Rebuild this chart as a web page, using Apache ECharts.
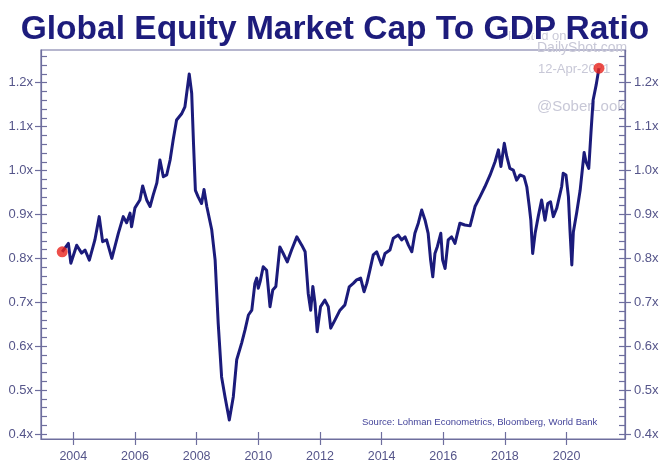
<!DOCTYPE html>
<html>
<head>
<meta charset="utf-8">
<script src="https://cdn.jsdelivr.net/npm/echarts@6/dist/echarts.min.js"></script>
<style>
html,body{margin:0;padding:0;background:#fff;}
#chart{width:670px;height:467px;}
</style>
</head>
<body>
<div id="chart"></div>
<script>
// ---- data (decimal years, ratio of market cap to GDP) ----
var dates = [
  2003.64, 2003.84, 2003.92, 2004.11, 2004.27, 2004.38, 2004.52, 2004.70, 2004.84, 2004.95,
  2005.08, 2005.25, 2005.46, 2005.62, 2005.73, 2005.84, 2005.89, 2006.00, 2006.16, 2006.25,
  2006.38, 2006.49, 2006.59, 2006.71, 2006.81, 2006.92, 2007.03, 2007.14, 2007.24, 2007.35,
  2007.52, 2007.62, 2007.76, 2007.84, 2007.90, 2007.96, 2008.05, 2008.16, 2008.24, 2008.33,
  2008.49, 2008.60, 2008.70, 2008.81, 2008.92, 2009.06, 2009.19, 2009.30, 2009.46, 2009.57,
  2009.68, 2009.79, 2009.89, 2009.95, 2010.00, 2010.06, 2010.16, 2010.27, 2010.38, 2010.47,
  2010.57, 2010.70, 2010.81, 2010.94, 2011.08, 2011.25, 2011.41, 2011.52, 2011.62, 2011.70,
  2011.77, 2011.84, 2011.91, 2012.02, 2012.16, 2012.27, 2012.35, 2012.49, 2012.65, 2012.81,
  2012.95, 2013.08, 2013.19, 2013.32, 2013.43, 2013.52, 2013.62, 2013.73, 2013.84, 2014.00,
  2014.11, 2014.27, 2014.38, 2014.54, 2014.65, 2014.76, 2014.87, 2014.98, 2015.08, 2015.19,
  2015.30, 2015.41, 2015.51, 2015.59, 2015.66, 2015.73, 2015.81, 2015.92, 2015.98, 2016.06,
  2016.16, 2016.27, 2016.38, 2016.54, 2016.70, 2016.87, 2017.03, 2017.19, 2017.35, 2017.52,
  2017.68, 2017.79, 2017.87, 2017.98, 2018.06, 2018.16, 2018.27, 2018.38, 2018.49, 2018.62,
  2018.71, 2018.79, 2018.84, 2018.90, 2018.98, 2019.08, 2019.19, 2019.30, 2019.39, 2019.48,
  2019.57, 2019.68, 2019.84, 2019.89, 2019.98, 2020.06, 2020.11, 2020.17, 2020.22, 2020.33,
  2020.44, 2020.57, 2020.63, 2020.72, 2020.79, 2020.86, 2020.96, 2021.05
];
var ratio = [
  0.815, 0.834, 0.789, 0.830, 0.812, 0.819, 0.796, 0.842, 0.895, 0.838,
  0.842, 0.800, 0.857, 0.895, 0.881, 0.903, 0.872, 0.915, 0.933, 0.965,
  0.933, 0.918, 0.944, 0.972, 1.024, 0.986, 0.990, 1.024, 1.070, 1.115,
  1.130, 1.145, 1.220, 1.176, 1.060, 0.955, 0.940, 0.925, 0.957, 0.918,
  0.865, 0.796, 0.652, 0.530, 0.485, 0.432, 0.485, 0.569, 0.607, 0.637,
  0.671, 0.682, 0.743, 0.755, 0.732, 0.747, 0.781, 0.773, 0.690, 0.728,
  0.736, 0.826, 0.811, 0.792, 0.819, 0.849, 0.830, 0.815, 0.720, 0.682,
  0.736, 0.698, 0.633, 0.690, 0.705, 0.690, 0.641, 0.660, 0.682, 0.694,
  0.735, 0.743, 0.751, 0.755, 0.724, 0.743, 0.773, 0.808, 0.815, 0.785,
  0.811, 0.819, 0.846, 0.853, 0.842, 0.849, 0.830, 0.815, 0.857, 0.880,
  0.910, 0.887, 0.857, 0.796, 0.758, 0.811, 0.827, 0.857, 0.796, 0.777,
  0.842, 0.849, 0.834, 0.880, 0.876, 0.874, 0.918, 0.940, 0.963, 0.990,
  1.020, 1.047, 1.009, 1.062, 1.032, 1.005, 1.001, 0.978, 0.990, 0.986,
  0.963, 0.918, 0.887, 0.811, 0.857, 0.895, 0.933, 0.887, 0.925, 0.929,
  0.895, 0.914, 0.963, 0.994, 0.990, 0.940, 0.865, 0.785, 0.860, 0.905,
  0.955, 1.041, 1.020, 1.005, 1.085, 1.160, 1.195, 1.233
];
var xTickLabels = [2004, 2006, 2008, 2010, 2012, 2014, 2016, 2018, 2020];
var yTickLabels = [0.4, 0.5, 0.6, 0.7, 0.8, 0.9, 1.0, 1.1, 1.2];
var yMinorStep = 0.02;

// ---- build ----
var seriesData = dates.map(function (d, i) { return [d, ratio[i]]; });
var endPoints = [seriesData[0], seriesData[seriesData.length - 1]];
var yMinorTicks = [];
for (var v = 0.40; v <= 1.27; v += yMinorStep) { yMinorTicks.push(Math.round(v * 100) / 100); }

var X_MIN = 2002.952, X_MAX = 2021.895;
var Y_MIN = 0.3886, Y_MAX = 1.2745;
var AXIS_COLOR = '#6e6e9e';
var LABEL_COLOR = '#55558a';
var FONT = 'Liberation Sans, Arial, sans-serif';

function yFmt(v) { return v.toFixed(1) + 'x'; }

function yAxisDef(pos, showLabel, inside, ticks, len, margin) {
  return {
    type: 'value', position: pos, min: Y_MIN, max: Y_MAX,
    splitLine: { show: false },
    axisLine: { show: showLabel, lineStyle: { color: AXIS_COLOR, width: 1.2 } },
    axisTick: { show: true, inside: inside, length: len, customValues: ticks,
                lineStyle: { color: AXIS_COLOR, width: 1.2 } },
    axisLabel: { show: showLabel, customValues: yTickLabels, formatter: yFmt,
                 color: LABEL_COLOR, fontSize: 13, fontFamily: FONT, margin: margin }
  };
}
function xAxisDef(showLabel, inside, len) {
  return {
    type: 'value', position: 'bottom', min: X_MIN, max: X_MAX,
    splitLine: { show: false },
    axisLine: { show: showLabel, lineStyle: { color: AXIS_COLOR, width: 1.2 } },
    axisTick: { show: true, inside: inside, length: len, customValues: xTickLabels,
                lineStyle: { color: AXIS_COLOR, width: 1.2 } },
    axisLabel: { show: showLabel, customValues: xTickLabels, formatter: function (v) { return String(v); },
                 color: LABEL_COLOR, fontSize: 12.5, fontFamily: FONT, margin: 11 }
  };
}

var chart = echarts.init(document.getElementById('chart'), null, { renderer: 'canvas' });
chart.setOption({
  animation: false,
  backgroundColor: '#ffffff',
  title: {
    text: 'Global Equity Market Cap To GDP Ratio',
    left: 'center', top: 8, z: 20,
    textStyle: { color: '#1d1c7c', fontSize: 33.5, fontWeight: 'bold', fontFamily: FONT,
                 textBorderColor: '#ffffff', textBorderWidth: 3 }
  },
  grid: { left: 41, right: 45, top: 50, bottom: 28, show: true,
          borderColor: AXIS_COLOR, borderWidth: 1.2, backgroundColor: 'transparent' },
  xAxis: [ xAxisDef(true, false, 6), xAxisDef(false, true, 7) ],
  yAxis: [
    yAxisDef('left', true, false, yTickLabels, 6, 8),
    yAxisDef('left', false, true, yMinorTicks, 6, 8),
    yAxisDef('right', true, false, yTickLabels, 6, 9),
    yAxisDef('right', false, true, yMinorTicks, 6, 9)
  ],
  graphic: [
    { type: 'text', z: 0, left: 508, top: 30, style: { text: 'Posted on', fill: '#cacad8', font: '13px ' + FONT } },
    { type: 'text', z: 0, left: 537, top: 41, style: { text: 'DailyShot.com', fill: '#c8c8d7', font: '14px ' + FONT } },
    { type: 'text', z: 0, left: 538, top: 63, style: { text: '12-Apr-2021', fill: '#c8c8d7', font: '13px ' + FONT } },
    { type: 'text', z: 0, left: 537, top: 99, style: { text: '@SoberLook', fill: '#c8c8d7', font: '15px ' + FONT } },
    { type: 'text', z: 10, left: 362, top: 417, style: { text: 'Source: Lohman Econometrics, Bloomberg, World Bank', fill: '#44449a', font: '9.5px ' + FONT } }
  ],
  series: [
    { type: 'line', xAxisIndex: 0, yAxisIndex: 0, data: seriesData, showSymbol: false, z: 5,
      lineStyle: { color: '#1b1b7b', width: 3, join: 'round' } },
    { type: 'scatter', xAxisIndex: 0, yAxisIndex: 0, data: endPoints, symbolSize: 11, z: 6,
      itemStyle: { color: '#e8231d' } }
  ]
});
</script>
</body>
</html>
